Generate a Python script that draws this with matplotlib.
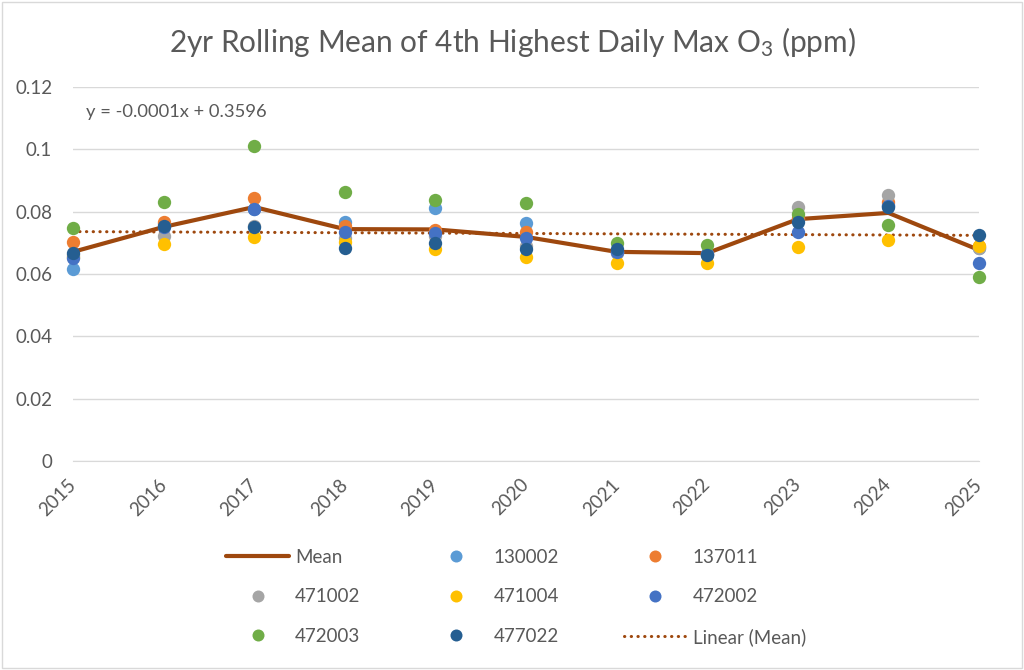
import matplotlib
matplotlib.use("Agg")
import matplotlib.pyplot as plt
import numpy as np
from matplotlib.patches import Rectangle

years = [2015, 2016, 2017, 2018, 2019, 2020, 2021, 2022, 2023, 2024, 2025]
mean = [0.0671, 0.0751, 0.0815, 0.0744, 0.0743, 0.0719, 0.0671, 0.0667, 0.0776, 0.0796, 0.0677]

s130002 = [0.0616, 0.0760, 0.0810, 0.0767, 0.0812, 0.0764, 0.0670, 0.0665, 0.0775, 0.0820, 0.0685]
s137011 = [0.0703, 0.0767, 0.0844, 0.0754, 0.0741, 0.0735, 0.0675, 0.0665, 0.0780, 0.0831, 0.0690]
s471002 = [0.0660, 0.0722, 0.0754, 0.0716, 0.0722, 0.0690, 0.0668, 0.0662, 0.0815, 0.0853, 0.0683]
s471004 = [0.0655, 0.0696, 0.0719, 0.0703, 0.0680, 0.0655, 0.0635, 0.0635, 0.0687, 0.0709, 0.0690]
s472002 = [0.0651, 0.0752, 0.0809, 0.0735, 0.0732, 0.0716, 0.0672, 0.0663, 0.0735, 0.0818, 0.0635]
s472003 = [0.0748, 0.0831, 0.1011, 0.0863, 0.0837, 0.0828, 0.0699, 0.0693, 0.0793, 0.0757, 0.0590]
s477022 = [0.0667, 0.0754, 0.0751, 0.0683, 0.0699, 0.0680, 0.0680, 0.0661, 0.0767, 0.0815, 0.0725]

series_names = ["130002", "137011", "471002", "471004", "472002", "472003", "477022"]
series_vals = [s130002, s137011, s471002, s471004, s472002, s472003, s477022]
series_colors = ["#5B9BD5", "#ED7D31", "#A5A5A5", "#FFC000", "#4472C4", "#70AD47", "#255E91"]

title = "2yr Rolling Mean of 4th Highest Daily Max O$_3$ (ppm)"
equation = "y = -0.0001x + 0.3596"
yticks = [0, 0.02, 0.04, 0.06, 0.08, 0.1, 0.12]
ytick_labels = ["0", "0.02", "0.04", "0.06", "0.08", "0.1", "0.12"]

plt.rcParams['font.family'] = ['Lato', 'DejaVu Sans']
plt.rcParams['mathtext.fontset'] = 'custom'
plt.rcParams['mathtext.rm'] = 'Lato'
plt.rcParams['mathtext.it'] = 'Lato'
txt = "#595959"

fig = plt.figure(figsize=(10.24, 6.70), dpi=100)
fig.patches.append(Rectangle((0.002, 0.003), 0.996, 0.994, transform=fig.transFigure,
                             fill=False, edgecolor="#D9D9D9", linewidth=1))
ax = fig.add_axes([73/1024, 1-461/670, (979-73)/1024, (461-87)/670])

x = np.arange(len(years))
mean_line, = ax.plot(x, mean, color="#9E480E", linewidth=3.0, zorder=3, label="Mean",
                     solid_capstyle="round", clip_on=False)
coef = np.polyfit(x, mean, 1)
trend, = ax.plot(x, np.polyval(coef, x), color="#9E480E", linewidth=2.2,
                 linestyle=(0, (0.1, 2.1)), dash_capstyle="round", zorder=3.5,
                 label="Linear (Mean)", clip_on=False)

handles = {}
for i, (name, vals, c) in enumerate(zip(series_names, series_vals, series_colors)):
    h, = ax.plot(x, vals, linestyle="none", marker="o", markersize=9.6, color=c,
                 markeredgewidth=0, zorder=4 + i * 0.1, label=name, clip_on=False)
    handles[name] = h

ax.set_xlim(0, len(years) - 1)
ax.set_ylim(0, 0.12)
ax.set_yticks(yticks)
ax.set_yticklabels(ytick_labels)
ax.set_xticks(x)
ax.set_xticklabels([str(y) for y in years], rotation=45, ha="right", va="center",
                   rotation_mode="anchor")
ax.grid(axis="y", color="#D9D9D9", linewidth=1)
ax.set_axisbelow(True)
for s in ["top", "right", "left"]:
    ax.spines[s].set_visible(False)
ax.spines["bottom"].set_color("#D9D9D9")
ax.tick_params(axis="both", length=0, labelsize=13.5, colors=txt)
ax.tick_params(axis="x", pad=15)
ax.tick_params(axis="y", pad=15)

fig.text(0.5, 1 - 42/670, title, ha="center", va="center", fontsize=21.5, color=txt)
fig.text(86/1024, 1 - 112/670, equation, ha="left", va="center",
         fontsize=13.2, color=txt)

order = [mean_line, handles["471002"], handles["472003"],
         handles["130002"], handles["471004"], handles["477022"],
         handles["137011"], handles["472002"], trend]
leg = fig.legend(order, [h.get_label() for h in order], ncol=3,
                 loc="upper left", bbox_to_anchor=(226/1024, 1 - 549/670),
                 frameon=False, fontsize=13.5, labelcolor=txt, handlelength=3.36,
                 handletextpad=0.32, columnspacing=3.44, labelspacing=1.2, borderpad=0,
                 borderaxespad=0, markerscale=0.9)

fig.savefig("out.png", dpi=100)
